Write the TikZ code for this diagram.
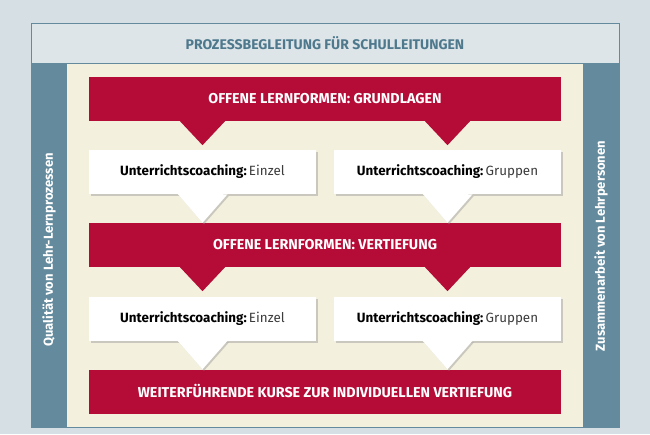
\documentclass[tikz,border=0pt]{standalone}
\usepackage{fontspec}
\setmainfont{Fira Sans}
\usetikzlibrary{shadows}
\definecolor{R}{RGB}{181, 12, 55}
\definecolor{B}{RGB}{100, 139, 157}
\definecolor{T}{RGB}{78, 121, 141}
\definecolor{H}{RGB}{214, 223, 227}
\definecolor{C}{RGB}{243, 240, 221}
\definecolor{K}{RGB}{60, 60, 60}

\tikzset{
  rotbox/.style={fill=R, text=white, inner sep=0pt, minimum width=472pt, minimum height=44pt,
    font=\bfseries\fontsize{14.3}{16}\selectfont},
  weissbox/.style={fill=white, text=K, inner sep=0pt, minimum width=227pt, minimum height=44pt,
    font=\fontsize{13.4}{15}\selectfont, schatten},
  schatten/.style={drop shadow={shadow xshift=1.5pt, shadow yshift=-1.5pt, fill=black!40, opacity=.45}},
  seite/.style={text=white, rotate=90, font=\bfseries\fontsize{13}{15}\selectfont}
}

\begin{document}
\begin{tikzpicture}[x=1pt,y=-1pt]
	% Hintergrund und Rahmen
	\fill[H] (0,0) rectangle (650,434);
	\fill[C] (31,63) rectangle (619,427);
	\fill[B] (31,63) rectangle (67,427);
	\fill[B] (583,63) rectangle (619,427);
	\draw[B, fill=H!80!white] (31,23.5) rectangle (619,63);
	\draw[B] (31,23.5) rectangle (619,427);
	\node[text=T, font=\bfseries\fontsize{14}{16}\selectfont] (titel) at (325,43) {PROZESSBEGLEITUNG FÜR SCHULLEITUNGEN};

	% Seitenbalken
	\node[seite] (qualitaet) at (49,250) {Qualität von Lehr-Lernprozessen};
	\node[seite] (zusammen) at (601,246) {Zusammenarbeit von Lehrpersonen};

	% rote Balken
	\node[rotbox] (grund) at (325,99) {OFFENE LERNFORMEN: GRUNDLAGEN};
	\node[rotbox] (vertief) at (325,245) {OFFENE LERNFORMEN: VERTIEFUNG};
	\node[rotbox] (kurse) at (325,391.5) {WEITERFÜHRENDE KURSE ZUR INDIVIDUELLEN VERTIEFUNG};

	% weisse Kaesten
	\node[weissbox] (einzelA) at (202.5,172) {\textbf{\color{black}Unterrichtscoaching:}\,Einzel};
	\node[weissbox] (gruppenA) at (447.5,172) {\textbf{\color{black}Unterrichtscoaching:}\,Gruppen};
	\node[weissbox] (einzelB) at (202.5,319) {\textbf{\color{black}Unterrichtscoaching:}\,Einzel};
	\node[weissbox] (gruppenB) at (447.5,319) {\textbf{\color{black}Unterrichtscoaching:}\,Gruppen};

	% Spitzen unter den roten Balken
	\foreach \r/\w in {grund/einzelA, grund/gruppenA, vertief/einzelB, vertief/gruppenB}
		\fill[R] (\w.north |- \r.south) ++(-23,-0.5) -- ++(23,24.5) -- ++(23,-24.5) -- cycle;

	% Spitzen unter den weissen Kaesten
	\foreach \w/\r in {einzelA/vertief, gruppenA/vertief, einzelB/kurse, gruppenB/kurse}
		\fill[white, schatten] (\w.south) ++(-25,-0.5) -- (\w.south |- \r.north) -- ++(25,-28.5) -- cycle;
\end{tikzpicture}
\end{document}
